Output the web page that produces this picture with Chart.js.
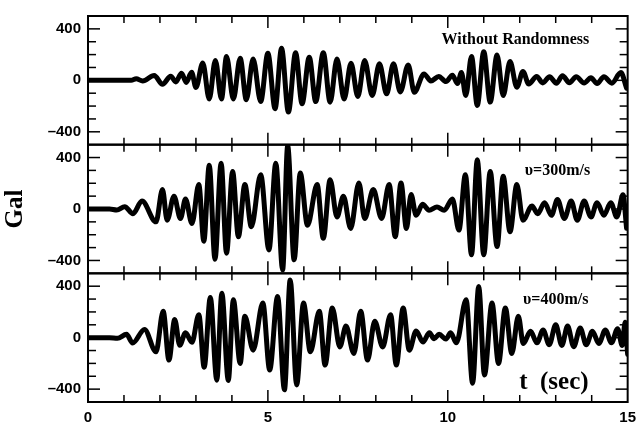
<!DOCTYPE html>
<html>
<head>
<meta charset="utf-8">
<script src="https://cdn.jsdelivr.net/npm/chart.js"></script>
<style>
  body { margin: 0; background: #fff; }
  #wrap { width: 643px; height: 426px; }
</style>
</head>
<body>
<div id="wrap"><canvas id="myChart" width="643" height="426"></canvas></div>
<script>
// DATA (extrema, seconds / Gal)

const xTickLabels = [0, 5, 10, 15];
const yTickLabels = [-400, 0, 400];

// panel 1 : without randomness
const p1Time = [0, 1.2, 1.34, 1.52, 1.84, 2.07, 2.3, 2.44, 2.6, 2.73, 2.88, 3.0, 3.19, 3.37, 3.54, 3.71,
  3.85, 4.04, 4.23, 4.4, 4.59, 4.8, 5.0, 5.2, 5.38, 5.57, 5.77, 5.95, 6.15, 6.33, 6.54, 6.73, 6.92,
  7.12, 7.31, 7.5, 7.69, 7.9, 8.1, 8.3, 8.49, 8.68, 8.9, 9.07, 9.34, 9.53, 9.75, 9.95, 10.13, 10.27,
  10.38, 10.5, 10.66, 10.82, 11.0, 11.18, 11.37, 11.54, 11.73, 11.92, 12.09, 12.25, 12.47, 12.64,
  12.83, 13.02, 13.19, 13.38, 13.57, 13.79, 13.98, 14.15, 14.34, 14.56, 14.81, 14.97];
const p1Gal = [0, 0, 12, -5, 38, -30, 32, -12, 56, -16, 62, -55, 135, -145, 155, -145,
  185, -145, 172, -150, 165, -165, 210, -220, 249, -246, 215, -182, 180, -165, 215, -170, 165,
  -145, 133, -126, 154, -118, 128, -105, 128, -90, 120, -92, 50, -5, 30, -10, 40, -25,
  60, -118, 185, -195, 223, -169, 197, -118, 146, -54, 69, -28, 30, -20,
  28, -22, 35, -18, 28, -20, 20, -25, 28, -22, 60, -60];

// panel 2 : v = 300 m/s
const p2Time = [0, 0.6, 0.8, 1.02, 1.25, 1.5, 1.89, 2.07, 2.2, 2.39, 2.57, 2.71, 2.89, 3.08, 3.22,
  3.37, 3.53, 3.7, 3.85, 4.02, 4.18, 4.36, 4.54, 4.8, 5.03, 5.22, 5.41, 5.55, 5.73, 5.9, 6.1, 6.37,
  6.54, 6.73, 6.92, 7.1, 7.3, 7.53, 7.69, 7.93, 8.16, 8.37, 8.54, 8.7, 8.85, 8.98, 9.12, 9.3, 9.48,
  9.7, 9.9, 10.13, 10.31, 10.49, 10.66, 10.82, 11.0, 11.18, 11.37, 11.54, 11.73, 11.92, 12.09,
  12.34, 12.5, 12.69, 12.88, 13.05, 13.24, 13.43, 13.6, 13.79, 13.98, 14.15, 14.34, 14.53, 14.7,
  14.87, 14.97];
const p2Gal = [0, 0, -8, 18, -36, 62, -100, 151, -87, 100, -74, 77, -113, 190, -250,
  340, -390, 356, -344, 292, -215, 190, -138, 267, -318, 356, -472, 490, -395, 280, -126, 190,
  -228, 228, -62, 100, -151, 203, -74, 151, -74, 190, -215, 203, -151, 113, -49, 36, -10,
  15, -10, 77, -164, 267, -356, 382, -356, 292, -292, 254, -177, 190, -87,
  23, -36, 49, -49, 74, -74, 62, -87, 62, -62, 49, -49, 49, -62,
  110, -150];

// panel 3 : v = 400 m/s
const p3Time = [0, 0.6, 0.82, 1.07, 1.24, 1.57, 1.89, 2.09, 2.25, 2.41, 2.55, 2.71, 2.89, 3.08, 3.23,
  3.4, 3.58, 3.72, 3.9, 4.04, 4.23, 4.36, 4.59, 4.86, 5.05, 5.27, 5.46, 5.62, 5.8, 5.99, 6.18, 6.43,
  6.59, 6.79, 7.0, 7.17, 7.39, 7.58, 7.77, 7.97, 8.19, 8.41, 8.57, 8.76, 8.93, 9.12, 9.31, 9.49,
  9.62, 9.76, 9.95, 10.08, 10.24, 10.51, 10.69, 10.86, 11.02, 11.23, 11.41, 11.6, 11.78, 11.96,
  12.1, 12.3, 12.48, 12.65, 12.82, 13.0, 13.17, 13.33, 13.5, 13.68, 13.85, 14.02, 14.2, 14.38,
  14.55, 14.72, 14.85, 14.93, 15.0];
const p3Gal = [0, 0, -5, 26, -41, 64, -110, 205, -174, 141, -59, 38, -36, 179, -230,
  313, -330, 346, -333, 295, -200, 167, -97, 269, -251, 320, -405, 449, -367, 269, -110, 205,
  -213, 231, -72, 90, -123, 205, -174, 128, -72, 179, -213, 231, -97, 51, -33, 38,
  -8, 26, -10, 38, -40, 295, -354, 397, -290, 269, -200, 231, -123, 167,
  -46, 50, -40, 60, -55, 100, -60, 90, -70, 75, -55, 50, -45, 60,
  -40, 70, -60, 120, -130];

// TEXT INSIDE THE PANELS
const notes = [
  { text: 'Without Randomness', axis: 'y1', t: 11.88, v: 315, font: 'bold 16px "Liberation Serif"' },
  { text: 'υ=300m/s', axis: 'y2', t: 13.05, v: 300, font: 'bold 16px "Liberation Serif"' },
  { text: 'υ=400m/s', axis: 'y3', t: 13.0, v: 290, font: 'bold 16px "Liberation Serif"' },
  { text: 't  (sec)', axis: 'y3', t: 12.95, v: -345, font: 'bold 25px "Liberation Serif"' }
];

function toPoints(times, values) {
    return times.map((t, i) => ({ x: t, y: values[i] }));
}

const tickFont = { family: 'Liberation Sans', size: 15, weight: 'bold' };

function panelAxis(order) {
    return {
        type: 'linear',
        position: 'left',
        stack: 'panels',
        stackWeight: 1,
        weight: order,
        min: -500,
        max: 500,
        grid: { display: false, drawTicks: false },
        border: { display: false },
        afterFit: scale => { scale.width = 88; },
        ticks: {
            stepSize: 100,
            autoSkip: false,
            padding: 7,
            color: '#000',
            font: tickFont,
            callback: v => yTickLabels.includes(v) ? (v < 0 ? '\u2013' + Math.abs(v) : String(v)) : ''
        }
    };
}

function waveSet(data, axis) {
    return {
        data: data,
        yAxisID: axis,
        xAxisID: 'x',
        borderColor: '#000',
        borderWidth: 5,
        borderJoinStyle: 'round',
        borderCapStyle: 'round',
        pointRadius: 0,
        fill: false,
        cubicInterpolationMode: 'monotone'
    };
}

function line(ctx, x1, y1, x2, y2) {
    ctx.beginPath();
    ctx.moveTo(x1, y1);
    ctx.lineTo(x2, y2);
    ctx.stroke();
}

// frames, inward ticks and labels
const framePlugin = {
    id: 'frame',
    afterDatasetsDraw(chart) {
        const ctx = chart.ctx;
        const area = chart.chartArea;
        const xs = chart.scales.x;
        ctx.save();
        ctx.strokeStyle = '#000';
        ['y1', 'y2', 'y3'].forEach(id => {
            const ys = chart.scales[id];
            ctx.lineWidth = 1.5;
            xs.ticks.forEach(tk => {
                if (tk.value <= xs.min || tk.value >= xs.max) return;
                const px = xs.getPixelForValue(tk.value);
                const len = tk.value % 5 === 0 ? 12 : 7;
                line(ctx, px, ys.top, px, ys.top + len);
                line(ctx, px, ys.bottom, px, ys.bottom - len);
            });
            ys.ticks.forEach(tk => {
                if (tk.value <= ys.min || tk.value >= ys.max) return;
                const py = ys.getPixelForValue(tk.value);
                const len = yTickLabels.includes(tk.value) ? 12 : 8;
                line(ctx, area.left, py, area.left + len, py);
                line(ctx, area.right, py, area.right - len, py);
            });
            ctx.lineWidth = 2;
            ctx.strokeRect(area.left, ys.top, area.right - area.left, ys.bottom - ys.top);
        });

        ctx.fillStyle = '#000';
        ctx.textAlign = 'center';
        ctx.textBaseline = 'middle';
        notes.forEach(n => {
            ctx.font = n.font;
            ctx.fillText(n.text, xs.getPixelForValue(n.t), chart.scales[n.axis].getPixelForValue(n.v));
        });

        // y title
        ctx.translate(16, chart.scales.y2.getPixelForValue(0));
        ctx.rotate(-Math.PI / 2);
        ctx.font = 'bold 25px "Liberation Serif"';
        ctx.fillText('Gal', 0, 0);
        ctx.restore();
    }
};

const ctx = document.getElementById('myChart').getContext('2d');

new Chart(ctx, {
    type: 'line',
    data: {
        datasets: [
            waveSet(toPoints(p1Time, p1Gal), 'y1'),
            waveSet(toPoints(p2Time, p2Gal), 'y2'),
            waveSet(toPoints(p3Time, p3Gal), 'y3')
        ]
    },
    options: {
        responsive: false,
        animation: false,
        devicePixelRatio: 1,
        layout: { padding: { top: 11, right: 9, left: 0, bottom: 0 } },
        plugins: { legend: { display: false }, tooltip: { enabled: false } },
        scales: {
            x: {
                type: 'linear',
                position: 'bottom',
                min: 0,
                max: 15,
                grid: { display: false, drawTicks: false },
                border: { display: false },
                afterFit: scale => { scale.height = 24; },
                ticks: {
                    stepSize: 1,
                    autoSkip: false,
                    maxRotation: 0,
                    padding: 7,
                    color: '#000',
                    font: tickFont,
                    callback: v => xTickLabels.includes(v) ? String(v) : ''
                }
            },
            y1: panelAxis(3),
            y2: panelAxis(2),
            y3: panelAxis(1)
        }
    },
    plugins: [framePlugin]
});
</script>
</body>
</html>
